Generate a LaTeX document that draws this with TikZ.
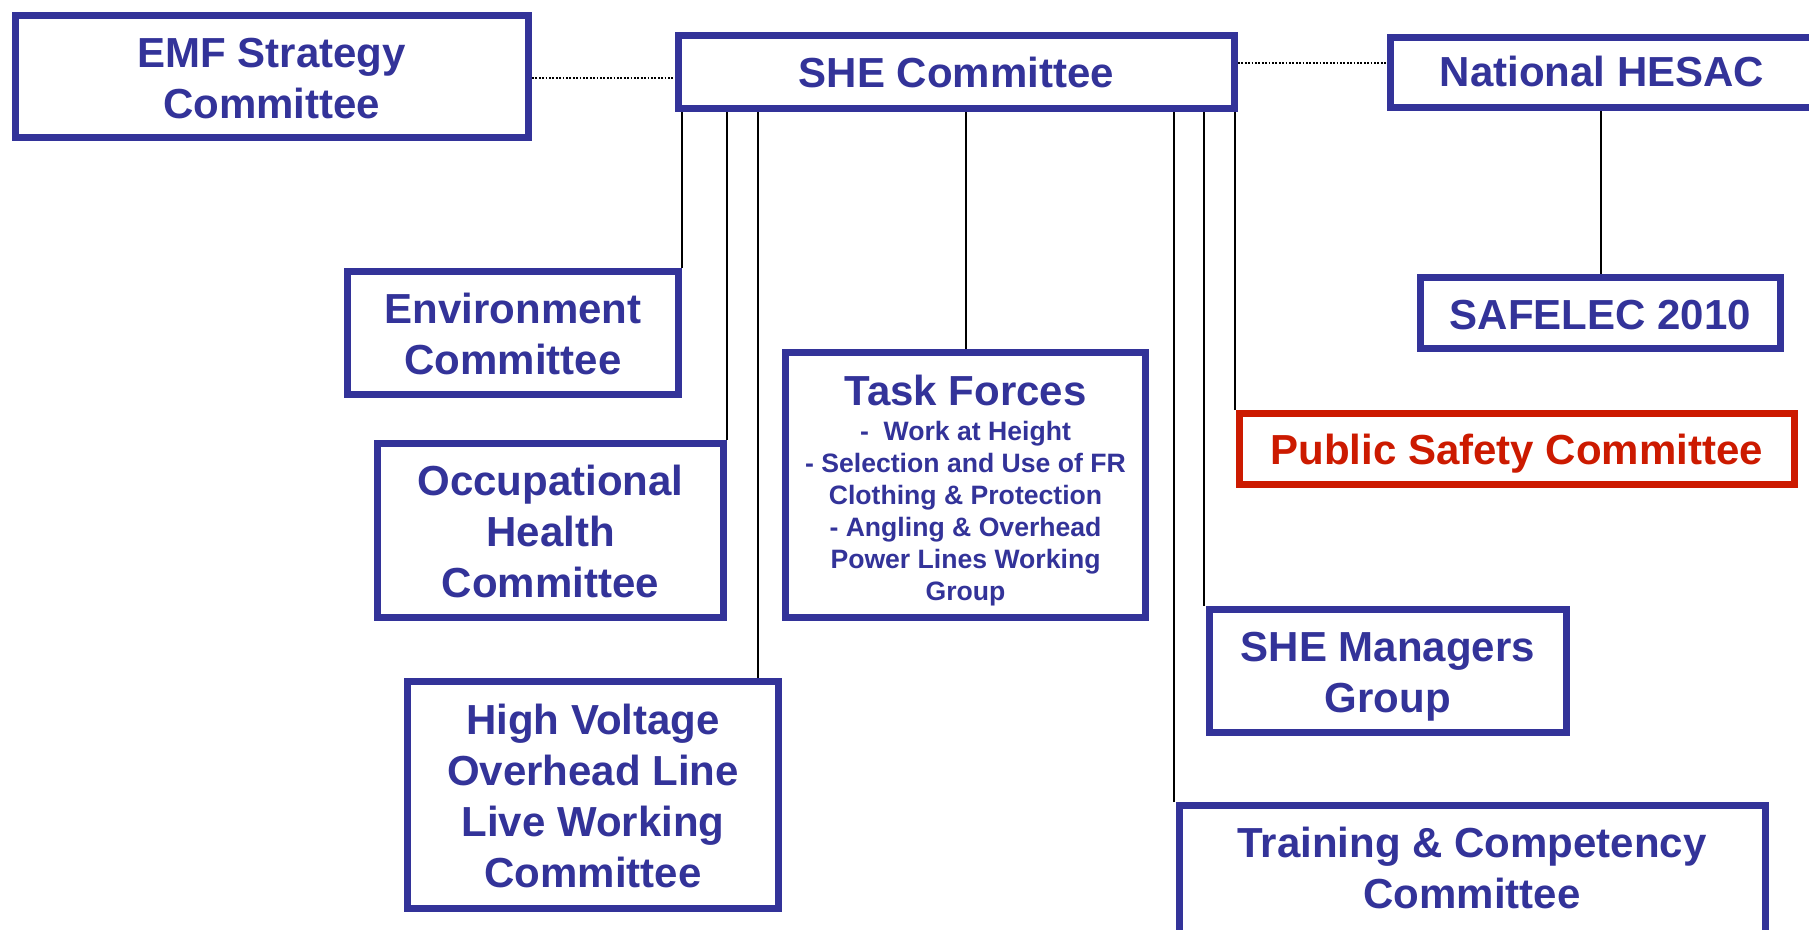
\documentclass[tikz,border=0pt]{standalone}
\usepackage{fontspec}
\setmainfont{Liberation Sans}
\usetikzlibrary{calc}
\definecolor{boxblue}{RGB}{51,51,153}
\definecolor{boxred}{RGB}{204,26,0}
\pgfdeclarelayer{bg}
\pgfsetlayers{bg,main}
\tikzset{
  box/.style={draw=boxblue,line width=7pt,fill=white,inner sep=0pt},
  redbox/.style={box,draw=boxred},
  txt/.style={inner sep=0pt,align=center,text=boxblue,font=\fontsize{42}{51}\selectfont\bfseries},
  smalltxt/.style={txt,font=\fontsize{26.6}{32}\selectfont\bfseries},
  conn/.style={draw=black,line width=2pt},
  dotline/.style={draw=black,line width=1.8pt,dash pattern=on 1.8pt off 1.6pt}
}
\begin{document}
\begin{tikzpicture}[x=1pt,y=-1pt]
\useasboundingbox (0,0) rectangle (1809,929);
\clip (0,0) rectangle (1809,929);

\node[box,minimum width=513.5pt,minimum height=122.5pt,
  label={[txt,yshift=-2pt]center:{EMF Strategy\\Committee}}] (emf) at (271.75,76.25) {};
\node[box,minimum width=556pt,minimum height=73pt,
  label={[txt]center:{SHE Committee}}] (she) at (956.5,72) {};
\node[box,minimum width=423pt,minimum height=70.5pt,
  label={[txt,yshift=1pt]center:{National HESAC}}] (hesac) at (1602,72.25) {};
\node[box,minimum width=360pt,minimum height=71.5pt,
  label={[txt,yshift=-2.5pt]center:{SAFELEC 2010}}] (safelec) at (1600.5,312.75) {};
\node[redbox,minimum width=554.5pt,minimum height=71.5pt,
  label={[txt,text=boxred,yshift=-4.5pt]center:{Public Safety Committee}}] (psc) at (1516.75,448.75) {};
\node[box,minimum width=331pt,minimum height=123.5pt,
  label={[txt,yshift=-1pt]center:{Environment\\Committee}}] (env) at (513,332.75) {};
\node[box,minimum width=346pt,minimum height=174pt,
  label={[txt,yshift=-1.5pt]center:{Occupational\\Health\\Committee}}] (occ) at (550.5,530) {};
\node[box,minimum width=371pt,minimum height=226.5pt,
  label={[txt,yshift=-1pt]center:{High Voltage\\Overhead Line\\Live Working\\Committee}}] (hv) at (593,794.75) {};
\node[box,minimum width=360pt,minimum height=265pt] (task) at (965.5,484.5) {};
\node[txt] (tasktitle) at (965.5,390) {Task Forces};
\node[smalltxt] (tasklist) at (965.5,514) {-~ Work at Height\\- Selection and Use of FR\\Clothing \& Protection\\- Angling \& Overhead\\Power Lines Working\\Group};
\node[box,minimum width=357.5pt,minimum height=123.5pt,
  label={[txt,yshift=-6pt]center:{SHE Managers\\Group}}] (mgr) at (1387.75,670.75) {};
\node[box,minimum width=586pt,minimum height=128pt,
  label={[txt,yshift=1.5pt]center:{Training \& Competency\\Committee}}] (train) at (1472,869.5) {};

\begin{pgfonlayer}{bg}
\fill[white] (0,0) rectangle (1809,929);
\draw[dotline] ($(emf.east)+(0,1.8)$) -- ($(emf.east -| she.west)+(0,1.8)$);
\draw[dotline] ($(she.east)+(0,-9)$) -- ($(she.east -| hesac.west)+(0,-9)$);
\end{pgfonlayer}
\draw[conn] (safelec.north) -- (safelec.north |- hesac.south);
\draw[conn] (env.north east) -- (env.north east |- she.south);
\draw[conn] (occ.north east) -- (occ.north east |- she.south);
\draw[conn] ($(hv.north east)+(-24.5,0)$) -- ($(hv.north east |- she.south)+(-24.5,0)$);
\draw[conn] (task.north) -- (task.north |- she.south);
\draw[conn] ($(train.north west)+(-1.7,0)$) -- ($(train.north west |- she.south)+(-1.7,0)$);
\draw[conn] ($(mgr.north west)+(-1.7,0)$) -- ($(mgr.north west |- she.south)+(-1.7,0)$);
\draw[conn] ($(psc.north west)+(-1.2,0)$) -- ($(psc.north west |- she.south)+(-1.2,0)$);
\end{tikzpicture}
\end{document}
